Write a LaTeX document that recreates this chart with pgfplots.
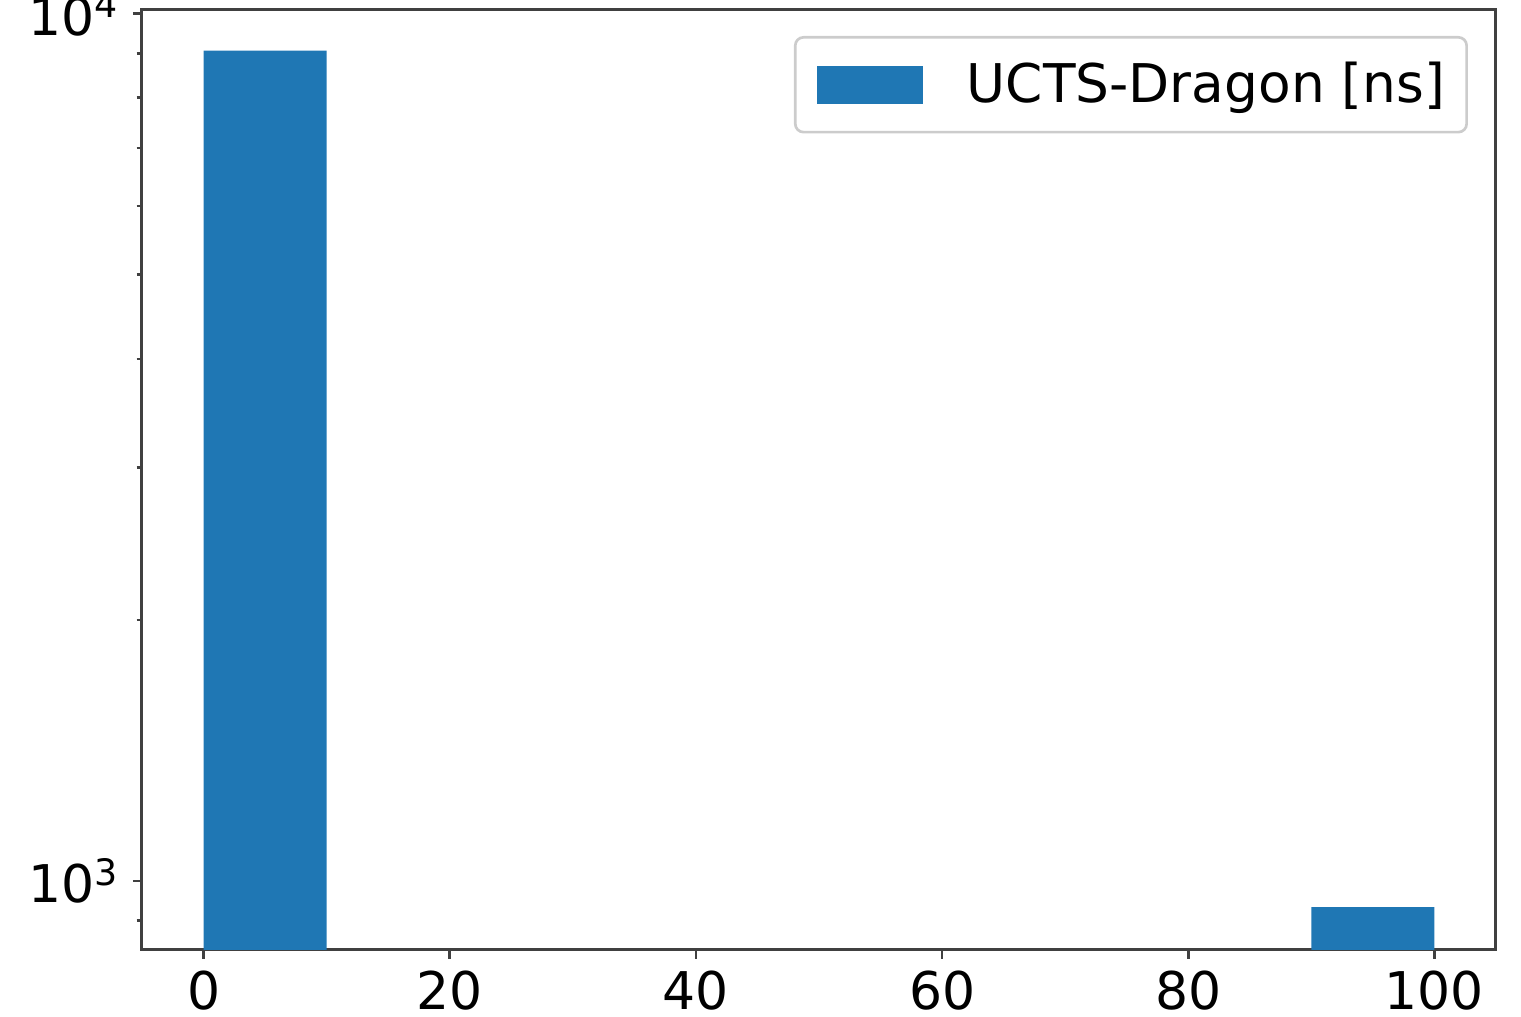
\documentclass[border=0pt]{standalone}
\usepackage{pgfplots}
\pgfplotsset{compat=1.18}
\usepackage{fontspec}
\setmainfont{DejaVu Sans}
\definecolor{mplblue}{HTML}{1F77B4}
\begin{document}
\begin{tikzpicture}
\begin{axis}[
  at={(0pt,0pt)}, anchor=south west,
  scale only axis, width=406.2pt, height=282pt,
  xmin=-5, xmax=105,
  ymode=log, ymin=833, ymax=10100,
  xtick={0,20,40,60,80,100},
  ytick={1000,10000},
  yticklabels={10\textsuperscript{3},10\textsuperscript{4}},
  minor ytick={900,2000,3000,4000,5000,6000,7000,8000,9000},
  tick pos=left, tick align=outside,
  major tick length=2.7pt, minor tick length=1.6pt,
  every tick/.style={black!75, line width=0.8pt},
  axis line style={black!75, line width=0.9pt},
  /pgf/number format/assume math mode=true,
  ticklabel style={font=\fontsize{15.6}{18}\selectfont},
  xticklabel style={yshift=0pt},
  yticklabel style={xshift=-0.6pt},
  legend image code/.code={\fill[mplblue, sharp corners] (0pt,-5.7pt) rectangle (31.8pt,5.7pt);},
  legend style={at={(1,1)}, anchor=north east, xshift=-8.4pt, yshift=-7.8pt,
    draw=black!20, line width=0.8pt, rounded corners=2.5pt,
    inner xsep=6.5pt, inner ysep=5.4pt,
    font=\fontsize{16}{18}\selectfont,
    column sep=0pt,
    nodes={inner xsep=0pt, inner ysep=2pt}},
  legend cell align=left,
]
\addplot[ybar, bar width=10, fill=mplblue, draw=none] coordinates {(5,9067) (95,933)};
\addlegendentry{\hspace{13.2pt}UCTS-Dragon [ns]}
\end{axis}
\pgfresetboundingbox
\useasboundingbox (-42.6pt,-20.1pt) rectangle (413.7pt,285pt);
\end{tikzpicture}
\end{document}
